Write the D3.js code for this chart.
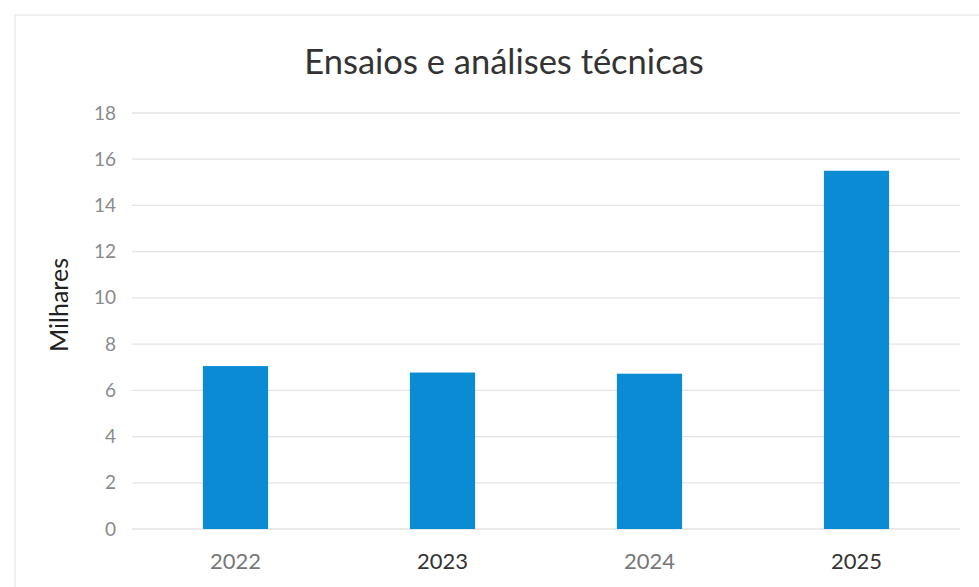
<!DOCTYPE html>
<html>
<head>
<meta charset="utf-8">
<script src="https://cdn.jsdelivr.net/npm/d3@7/dist/d3.min.js"></script>
<style>
  html, body { margin: 0; padding: 0; background: #fff; }
  svg { display: block; }
</style>
</head>
<body>
<script>
const categories = ["2022", "2023", "2024", "2025"];
const values = [7.05, 6.77, 6.72, 15.5];
const yTicks = [0, 2, 4, 6, 8, 10, 12, 14, 16, 18];
const title = "Ensaios e análises técnicas";
const yLabel = "Milhares";

const W = 979, H = 587;
const svg = d3.select("body").append("svg").attr("width", W).attr("height", H);

svg.append("rect").attr("x", 15).attr("y", 15).attr("width", W).attr("height", H)
  .attr("fill", "none").attr("stroke", "#ececec").attr("stroke-width", 1.5);

const x = d3.scaleBand().domain(categories).range([132, 960])
  .paddingInner(0.685).paddingOuter(0.3425);
const y = d3.scaleLinear().domain([0, 18]).range([529, 113]);

const font = "Lato, 'Open Sans', sans-serif";

// gridlines
svg.append("g").selectAll("line").data(yTicks).join("line")
  .attr("x1", 132).attr("x2", 960)
  .attr("y1", d => y(d)).attr("y2", d => y(d))
  .attr("stroke", "#e3e3e3").attr("stroke-width", 1.3);

// y axis labels
const yAxis = d3.axisLeft(y).tickValues(yTicks).tickSize(0).tickPadding(0);
const gy = svg.append("g").attr("transform", "translate(116,0)").call(yAxis);
gy.select(".domain").remove();
gy.selectAll("text").attr("font-family", font).attr("font-size", 19)
  .attr("fill", "#8a8a8a");

// bars
svg.append("g").selectAll("rect").data(categories).join("rect")
  .attr("x", d => x(d)).attr("width", x.bandwidth())
  .attr("y", (d, i) => y(values[i])).attr("height", (d, i) => y(0) - y(values[i]))
  .attr("fill", "#0a8bd4");

// x axis
const xAxis = d3.axisBottom(x).tickSize(0).tickPadding(0);
const gx = svg.append("g").attr("transform", "translate(0,553)").call(xAxis);
gx.select(".domain").remove();
gx.selectAll("text").attr("font-family", font).attr("font-size", 22)
  .attr("fill", (d, i) => i % 2 ? "#333" : "#777").attr("dy", "0.71em");

// title
svg.append("text").attr("x", 504).attr("y", 74).attr("text-anchor", "middle")
  .attr("font-family", font).attr("font-size", 34.5).attr("fill", "#333").text(title);

// y label
svg.append("text").attr("transform", "translate(68,305) rotate(-90)")
  .attr("text-anchor", "middle").attr("font-family", font).attr("font-size", 25)
  .attr("fill", "#222").text(yLabel);
</script>
</body>
</html>
